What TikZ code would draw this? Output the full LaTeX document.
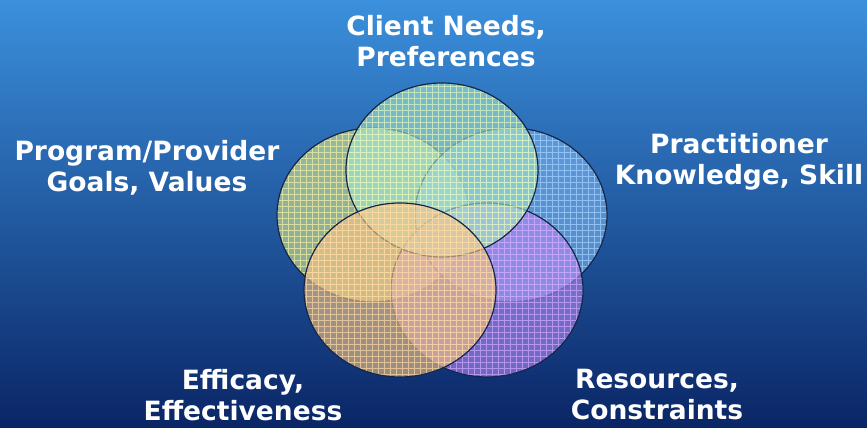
\documentclass[tikz,border=0pt]{standalone}
\usepackage{fontspec}
\setmainfont{DejaVu Sans}

\definecolor{bgtop}{HTML}{3B90DC}
\definecolor{bgbot}{HTML}{0A2566}
\definecolor{rim}{HTML}{16264A}
\definecolor{topfill}{HTML}{A8E8D4}
\definecolor{topgrid}{HTML}{E4F8B8}
\definecolor{leftfill}{HTML}{DCEB98}
\definecolor{leftgrid}{HTML}{F6F2A0}
\definecolor{rightfill}{HTML}{7EB6F0}
\definecolor{rightgrid}{HTML}{A8D4FF}
\definecolor{purpfill}{HTML}{AE8CF2}
\definecolor{purpgrid}{HTML}{D4A8FF}
\definecolor{orfill}{HTML}{FAC888}
\definecolor{orgrid}{HTML}{FFD8A0}

\begin{document}
\begin{tikzpicture}[x=1pt,y=1pt,
  lbl/.style={text=white,font=\fontsize{26.5}{31}\selectfont\bfseries,align=center}]
  \shade[top color=bgtop, bottom color=bgbot] (0,0) rectangle (867,428);
  \useasboundingbox (0,0) rectangle (867,428);

  % the five sets, back to front
  \foreach \x/\y/\f/\g in {373/213/leftfill/leftgrid, 511/213/rightfill/rightgrid,
      487/138/purpfill/purpgrid, 442/258/topfill/topgrid, 400/138/orfill/orgrid}{
    \begin{scope}
      \clip (\x,\y) ellipse (96 and 87);
      \fill[\f, opacity=0.6] (\x,\y) ellipse (96 and 87);
      \draw[\g, opacity=0.7, step=6pt] (\x-100,\y-90) grid (\x+100,\y+90);
    \end{scope}
    \draw[rim, line width=1.2pt] (\x,\y) ellipse (96 and 87);
  }

  \node[lbl] (client) at (446,387) {Client Needs,\\Preferences};
  \node[lbl] (program) at (147,260) {Program/Provider\\Goals, Values};
  \node[lbl] (practitioner) at (739,266) {Practitioner\\Knowledge, Skill};
  \node[lbl] (efficacy) at (243,33) {Efficacy,\\Effectiveness};
  \node[lbl] (resources) at (657,33) {Resources,\\Constraints};
\end{tikzpicture}
\end{document}
